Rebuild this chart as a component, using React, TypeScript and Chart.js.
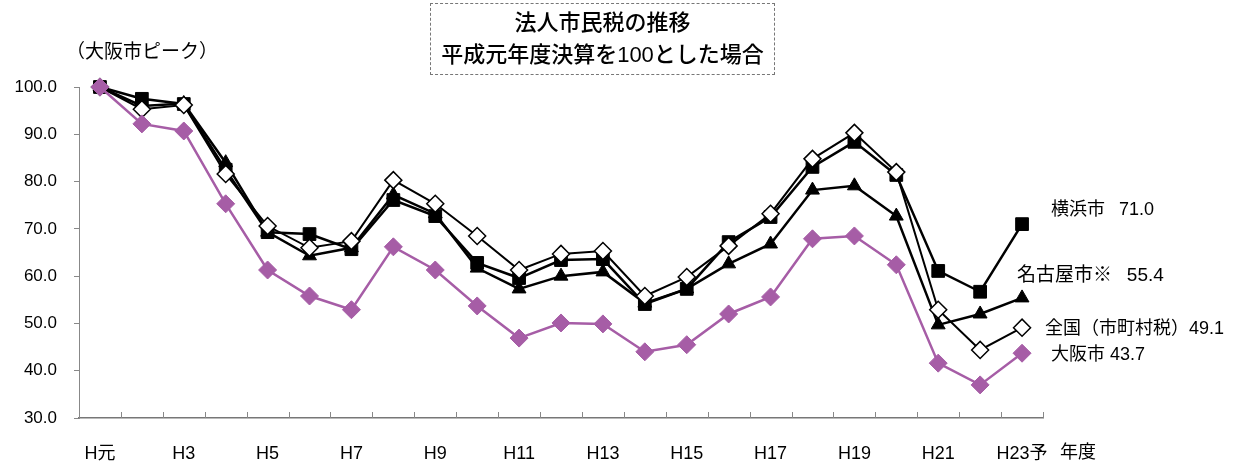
import React, { useEffect, useRef } from "react";
import { Chart, registerables } from "chart.js";

Chart.register(...registerables);

const categories = [
  "H元", "H2", "H3", "H4", "H5", "H6", "H7", "H8", "H9", "H10", "H11", "H12",
  "H13", "H14", "H15", "H16", "H17", "H18", "H19", "H20", "H21", "H22", "H23予",
];

const yokohama = [100, 97.5, 96.4, 82.5, 69.3, 68.9, 65.7, 76.1, 72.7, 62.8, 59.6, 63.4, 63.6, 54.1, 57.3, 67.2, 72.5, 83.1, 88.4, 81.4, 61.1, 56.7, 71.0];
const nagoya = [100, 96.0, 96.5, 84.0, 69.3, 64.3, 66.0, 77.2, 73.2, 61.7, 57.3, 60.0, 60.9, 54.3, 57.3, 62.6, 66.8, 78.2, 79.1, 72.7, 49.7, 52.0, 55.4];
const national = [100, 95.3, 96.2, 81.6, 70.6, 66.0, 67.4, 80.3, 75.3, 68.5, 61.3, 64.7, 65.3, 55.8, 59.8, 66.4, 73.2, 84.8, 90.3, 82.0, 52.9, 44.4, 49.1];
const osaka = [100, 92.2, 90.7, 75.3, 61.3, 55.8, 52.9, 66.2, 61.3, 53.7, 46.9, 50.1, 49.9, 44.0, 45.5, 52.0, 55.6, 67.9, 68.5, 62.4, 41.6, 37.0, 43.7];

const seriesLabels = ["横浜市\u2002 71.0", "名古屋市※\u2002 55.4", "全国（市町村税）49.1", "大阪市 43.7"];

const yTickValues = [30, 40, 50, 60, 70, 80, 90, 100];

const FONT = "'Liberation Sans', 'Noto Sans CJK JP', sans-serif";
const PURPLE = "#A65DA6";

export default function App() {
  const canvasRef = useRef<HTMLCanvasElement | null>(null);

  useEffect(() => {
    if (!canvasRef.current) return;

    const labelOffsets: Record<number, [number, number]> = {
      0: [29, -14],
      1: [-5, -22],
      2: [23, 1],
      3: [29, 2],
    };
    const labelSizes: Record<number, number> = { 0: 18, 1: 19, 2: 18, 3: 18 };

    const endLabels = {
      id: "endLabels",
      afterDatasetsDraw(chart: any) {
        const ctx = chart.ctx;
        ctx.save();
        ctx.fillStyle = "#000";
        ctx.textAlign = "left";
        ctx.textBaseline = "middle";
        chart.data.datasets.forEach((ds: any, i: number) => {
          const meta = chart.getDatasetMeta(i);
          const last = meta.data[meta.data.length - 1];
          const off = labelOffsets[ds.labelIndex];
          ctx.font = `${labelSizes[ds.labelIndex]}px ${FONT}`;
          ctx.fillText(ds.label, last.x + off[0], last.y + off[1]);
        });
        ctx.restore();
      },
    };

    const xTicks = {
      id: "xTicks",
      afterDraw(chart: any) {
        const sx = chart.scales.x;
        const ctx = chart.ctx;
        const bottom = chart.chartArea.bottom;
        ctx.save();
        ctx.strokeStyle = "#888";
        ctx.lineWidth = 1;
        ctx.beginPath();
        for (let i = 0; i <= categories.length; i++) {
          const x = Math.round(sx.getPixelForValue(i - 0.5)) + 0.5;
          ctx.moveTo(x, bottom);
          ctx.lineTo(x, bottom - 6);
        }
        ctx.stroke();
        ctx.restore();
      },
    };

    const chart = new Chart(canvasRef.current, {
      type: "line",
      data: {
        labels: categories,
        datasets: [
          {
            label: seriesLabels[3],
            labelIndex: 3,
            data: osaka,
            borderColor: PURPLE,
            backgroundColor: PURPLE,
            borderWidth: 2.5,
            pointStyle: "rectRot",
            pointRadius: 9,
            pointBorderColor: PURPLE,
            pointBackgroundColor: PURPLE,
            pointBorderWidth: 1,
            clip: false,
          } as any,
          {
            label: seriesLabels[2],
            labelIndex: 2,
            data: national,
            borderColor: "#000",
            borderWidth: 2,
            pointStyle: "rectRot",
            pointRadius: 8.5,
            pointBorderColor: "#000",
            pointBackgroundColor: "#fff",
            pointBorderWidth: 1.5,
            clip: false,
          } as any,
          {
            label: seriesLabels[1],
            labelIndex: 1,
            data: nagoya,
            borderColor: "#000",
            borderWidth: 2.5,
            pointStyle: "triangle",
            pointRadius: 8,
            pointBorderColor: "#000",
            pointBackgroundColor: "#000",
            pointBorderWidth: 1,
            clip: false,
          } as any,
          {
            label: seriesLabels[0],
            labelIndex: 0,
            data: yokohama,
            borderColor: "#000",
            borderWidth: 2.5,
            pointStyle: "rect",
            pointRadius: 9,
            pointBorderColor: "#000",
            pointBackgroundColor: "#000",
            pointBorderWidth: 1,
            clip: false,
          } as any,
        ],
      },
      options: {
        animation: false,
        responsive: true,
        maintainAspectRatio: false,
        layout: { padding: { top: 87, right: 192, left: 0, bottom: 0 } },
        plugins: {
          legend: { display: false },
          tooltip: { enabled: false },
          title: { display: false },
        },
        scales: {
          x: {
            type: "category",
            offset: true,
            grid: { display: false },
            border: { display: true, color: "#777", width: 1.5 },
            ticks: {
              autoSkip: false,
              maxRotation: 0,
              padding: 17,
              color: "#000",
              font: { family: FONT, size: 18 },
              callback: (_v: any, i: number) => (i % 2 === 0 ? categories[i] : ""),
            },
            afterFit: (s: any) => {
              s.height = 48;
            },
          },
          y: {
            min: 30,
            max: 100,
            afterBuildTicks: (s: any) => {
              s.ticks = yTickValues.map((v) => ({ value: v }));
            },
            grid: {
              drawOnChartArea: false,
              drawTicks: true,
              tickLength: 5,
              color: "#888",
            },
            border: { display: true, color: "#888", width: 1 },
            ticks: {
              padding: 17,
              color: "#000",
              font: { family: FONT, size: 17 },
              callback: (v: any) => Number(v).toFixed(1),
            },
            afterFit: (s: any) => {
              s.width = 79;
            },
          },
        },
      } as any,
      plugins: [endLabels, xTicks],
    });

    return () => chart.destroy();
  }, []);

  return (
    <div style={{ position: "absolute", left: 0, top: 0, width: 1235, height: 466, background: "#fff", fontFamily: FONT }}>
      <canvas ref={canvasRef} />
      <div
        style={{
          position: "absolute",
          left: 430,
          top: 3,
          width: 345,
          height: 72,
          boxSizing: "border-box",
          border: "1px dashed #777",
          display: "flex",
          flexDirection: "column",
          justifyContent: "center",
          alignItems: "center",
          fontSize: 22,
          lineHeight: "32px",
          color: "#000",
          fontWeight: 500,
          whiteSpace: "nowrap",
        }}
      >
        <div>法人市民税の推移</div>
        <div>平成元年度決算を100とした場合</div>
      </div>
      <div style={{ position: "absolute", left: 66, top: 40, fontSize: 19, lineHeight: "24px", color: "#000" }}>
        （大阪市ピーク）
      </div>
      <div style={{ position: "absolute", left: 1060, top: 440, fontSize: 18, lineHeight: "24px", color: "#000" }}>
        年度
      </div>
    </div>
  );
}
